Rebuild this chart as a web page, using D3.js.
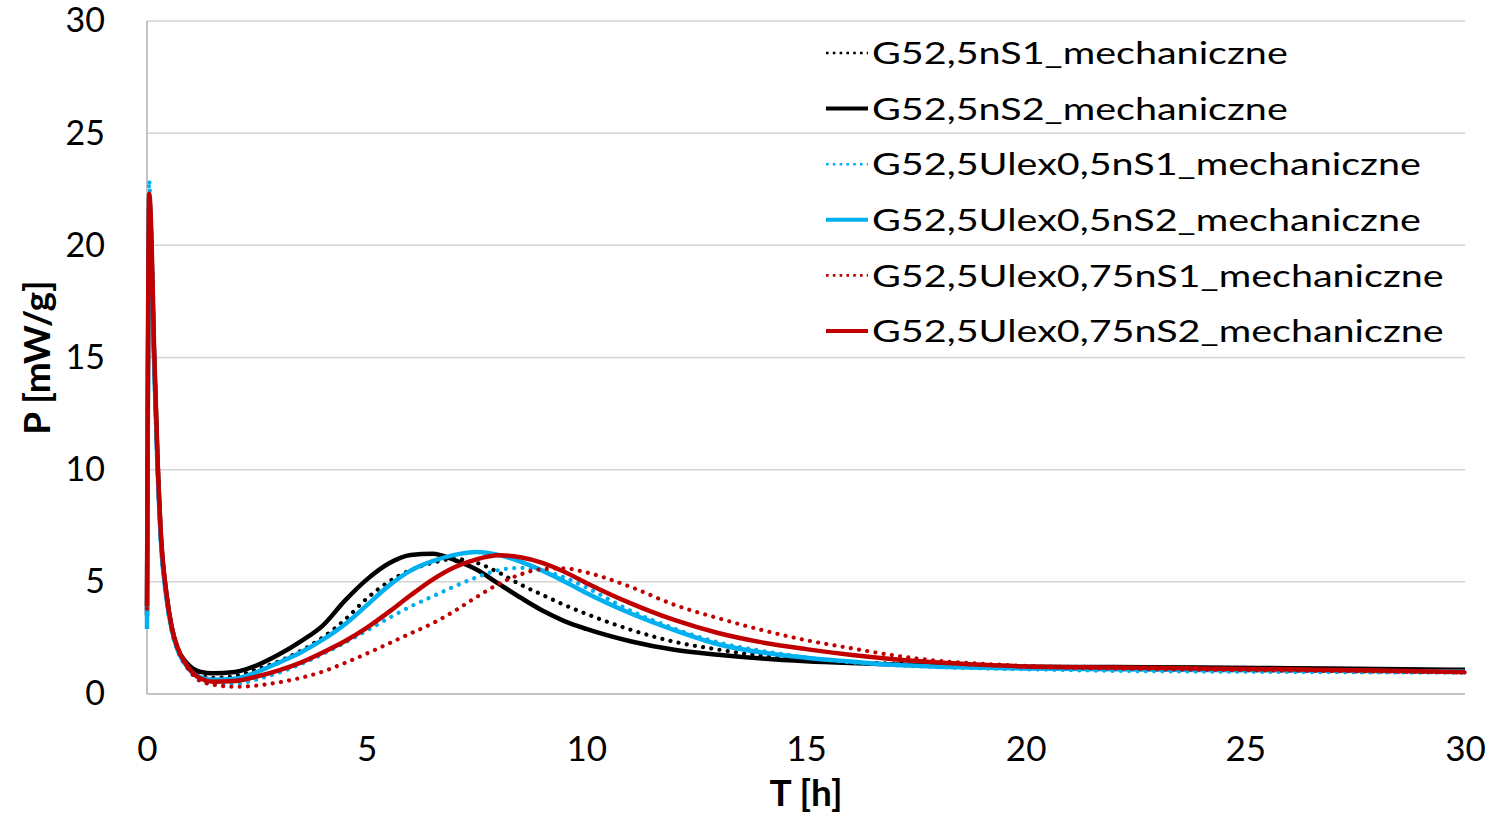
<!DOCTYPE html>
<html><head><meta charset="utf-8">
<script src="https://cdn.jsdelivr.net/npm/d3@7"></script>
<style>body{margin:0;background:#fff}</style>
</head><body><svg id="c" width="1493" height="820"></svg>
<script>
// Time grid [h]
const T = [0, 0.05, 0.1, 0.16, 0.24, 0.32, 0.44, 0.56, 0.7, 0.9,
  1.2, 1.5, 2, 2.5, 3, 3.5, 4, 4.5, 5, 5.5,
  6, 6.5, 7, 7.5, 8, 8.5, 9, 9.5, 10, 11,
  12, 13, 14, 15, 16, 17, 18, 19, 20, 22,
  24, 26, 28, 30];

const g52_nS1 = [3.5, 22.0, 20.3, 15.4, 10.4, 6.9, 4.5, 3.0, 2.0, 1.35,
  0.85, 0.72, 0.8, 1.1, 1.45, 1.92, 2.52, 3.3, 4.25, 5.0,
  5.52, 5.85, 6.02, 5.85, 5.42, 4.88, 4.42, 3.97, 3.57, 2.87,
  2.33, 1.98, 1.7, 1.52, 1.42, 1.35, 1.3, 1.26, 1.22, 1.2,
  1.17, 1.13, 1.08, 1.03];
const g52_nS2 = [3.5, 20.5, 19.5, 15.2, 10.4, 6.9, 4.5, 3.0, 2.0, 1.4,
  1.0, 0.92, 0.98, 1.28, 1.76, 2.35, 3.05, 4.15, 5.1, 5.82,
  6.2, 6.25, 5.97, 5.55, 4.92, 4.3, 3.72, 3.25, 2.9, 2.35,
  1.97, 1.75, 1.58, 1.46, 1.38, 1.32, 1.28, 1.25, 1.22, 1.2,
  1.18, 1.15, 1.12, 1.08];
const ulex05_nS1 = [3.0, 22.9, 19.8, 14.6, 9.8, 6.5, 4.2, 2.8, 1.9, 1.2,
  0.6, 0.45, 0.45, 0.65, 0.95, 1.33, 1.78, 2.28, 2.82, 3.38,
  3.9, 4.35, 4.8, 5.2, 5.52, 5.62, 5.5, 5.2, 4.75, 3.72,
  2.92, 2.3, 1.92, 1.63, 1.42, 1.28, 1.2, 1.14, 1.1, 1.03,
  1.0, 0.98, 0.96, 0.94];
const ulex05_nS2 = [2.9, 22.2, 20.0, 14.9, 10.1, 6.7, 4.3, 2.9, 1.95, 1.25,
  0.75, 0.63, 0.68, 0.98, 1.4, 1.85, 2.42, 3.1, 3.95, 4.82,
  5.5, 5.92, 6.2, 6.33, 6.2, 5.9, 5.5, 5.02, 4.5, 3.6,
  2.85, 2.22, 1.85, 1.62, 1.45, 1.3, 1.22, 1.17, 1.14, 1.1,
  1.07, 1.05, 1.03, 1.0];
const ulex075_nS1 = [3.8, 22.2, 20.4, 15.5, 10.5, 7.0, 4.5, 3.0, 2.0, 1.25,
  0.6, 0.42, 0.32, 0.38, 0.52, 0.72, 1.0, 1.38, 1.8, 2.25,
  2.7, 3.15, 3.7, 4.32, 4.9, 5.33, 5.57, 5.6, 5.42, 4.78,
  3.98, 3.38, 2.85, 2.4, 2.05, 1.72, 1.48, 1.35, 1.25, 1.13,
  1.08, 1.04, 1.0, 0.96];
const ulex075_nS2 = [3.9, 22.3, 20.5, 15.5, 10.5, 7.0, 4.5, 3.0, 2.05, 1.3,
  0.7, 0.55, 0.58, 0.78, 1.05, 1.4, 1.85, 2.35, 2.95, 3.65,
  4.4, 5.1, 5.65, 6.0, 6.18, 6.1, 5.85, 5.45, 4.95, 4.05,
  3.3, 2.72, 2.3, 2.0, 1.75, 1.55, 1.4, 1.3, 1.23, 1.18,
  1.14, 1.1, 1.05, 0.98];

const seriesNames = ["G52,5nS1_mechaniczne", "G52,5nS2_mechaniczne",
  "G52,5Ulex0,5nS1_mechaniczne", "G52,5Ulex0,5nS2_mechaniczne",
  "G52,5Ulex0,75nS1_mechaniczne", "G52,5Ulex0,75nS2_mechaniczne"];
const seriesValues = [g52_nS1, g52_nS2, ulex05_nS1, ulex05_nS2, ulex075_nS1, ulex075_nS2];
const xTicks = [0, 5, 10, 15, 20, 25, 30];
const yTicks = [0, 5, 10, 15, 20, 25, 30];
const xTitle = "T [h]";
const yTitle = "P [mW/g]";

// styles
const colors = ["#000000", "#000000", "#00b0f0", "#00b0f0", "#c00000", "#c00000"];
const dotted = [true, false, true, false, true, false];
const FONT = "Lato, 'Open Sans', sans-serif";

const svg = d3.select("#c");
const x = d3.scaleLinear().domain([0, 30]).range([147, 1465]);
const y = d3.scaleLinear().domain([0, 30]).range([694, 21]);

// gridlines
svg.append("g").selectAll("line").data(yTicks.filter(d => d > 0)).join("line")
  .attr("x1", x(0)).attr("x2", x(30))
  .attr("y1", d => y(d)).attr("y2", d => y(d))
  .attr("stroke", "#d4d4d4").attr("stroke-width", 1.5);

// axes lines
svg.append("line").attr("x1", x(0)).attr("x2", x(0)).attr("y1", y(0)).attr("y2", y(30))
  .attr("stroke", "#b0b0b0").attr("stroke-width", 1.5);
svg.append("line").attr("x1", x(0)).attr("x2", x(30)).attr("y1", y(0)).attr("y2", y(0))
  .attr("stroke", "#b0b0b0").attr("stroke-width", 1.5);

// tick labels via axes
const ya = svg.append("g").attr("transform", `translate(${x(0)},0)`)
  .call(d3.axisLeft(y).tickValues(yTicks).tickSize(0).tickPadding(42).tickFormat(d3.format("d")));
ya.select(".domain").remove();
ya.selectAll("text").attr("font-family", FONT).attr("font-size", 34).attr("fill", "#000");

const xa = svg.append("g").attr("transform", `translate(0,${y(0)})`)
  .call(d3.axisBottom(x).tickValues(xTicks).tickSize(0).tickPadding(42).tickFormat(d3.format("d")));
xa.select(".domain").remove();
xa.selectAll("text").attr("font-family", FONT).attr("font-size", 35).attr("fill", "#000");

// axis titles
svg.append("text").attr("transform", `translate(${x(15)},806)`)
  .attr("text-anchor", "middle").attr("font-family", FONT).attr("font-weight", "bold")
  .attr("font-size", 37).text(xTitle);
svg.append("text").attr("transform", `translate(50,${y(15)}) rotate(-90)`)
  .attr("text-anchor", "middle").attr("font-family", FONT).attr("font-weight", "bold")
  .attr("font-size", 37).text(yTitle);

// series
const line = d3.line().x(d => x(d[0])).y(d => y(d[1])).curve(d3.curveMonotoneX);
seriesValues.forEach((vals, i) => {
  const pts = T.map((t, k) => [t, vals[k]]);
  svg.append("path").datum(pts).attr("d", line)
    .attr("fill", "none").attr("stroke", colors[i])
    .attr("stroke-width", dotted[i] ? 4.2 : 4.5)
    .attr("stroke-linecap", dotted[i] ? "round" : "butt")
    .attr("stroke-linejoin", "round")
    .attr("stroke-dasharray", dotted[i] ? "0.01 8.3" : null);
});

// legend
const legY0 = 53, legDy = 55.6;
seriesNames.forEach((name, i) => {
  const yy = legY0 + i * legDy;
  svg.append("line").attr("x1", 826).attr("x2", 868).attr("y1", yy).attr("y2", yy)
    .attr("stroke", colors[i]).attr("stroke-width", dotted[i] ? 2.6 : 4)
    .attr("stroke-dasharray", dotted[i] ? "2.6 4.2" : null);
  svg.append("text").attr("transform", `translate(872,${yy}) scale(1.275,1)`)
    .attr("dy", "0.36em").attr("font-family", FONT).attr("font-size", 31)
    .attr("fill", "#000").text(name);
});
</script></body></html>
